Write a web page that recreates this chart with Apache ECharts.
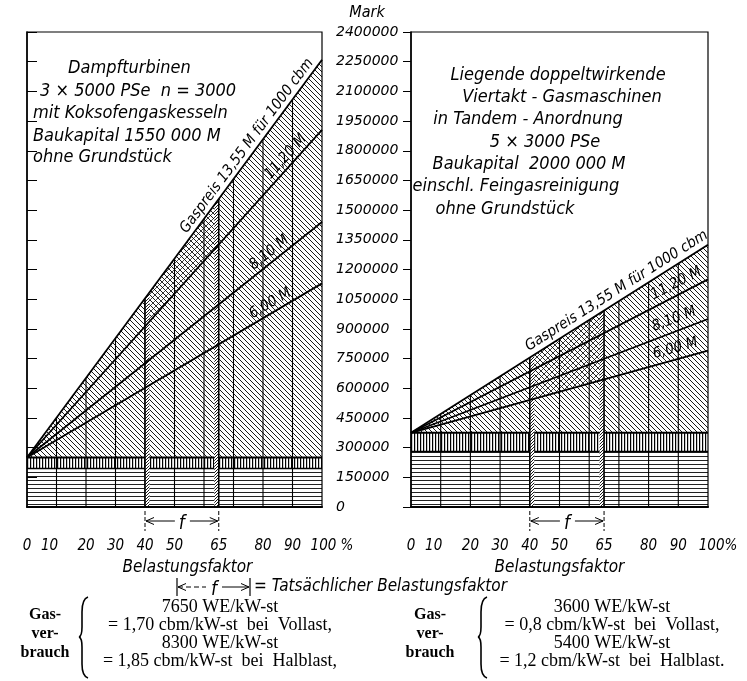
<!DOCTYPE html>
<html>
<head>
<meta charset="utf-8">
<script src="https://cdn.jsdelivr.net/npm/echarts@6/dist/echarts.min.js"></script>
<style>
html, body { margin: 0; padding: 0; background: #fff; }
#chart { width: 747px; height: 681px; }
</style>
</head>
<body>
<div id="chart"></div>
<script>
// Belastungsfaktor (%) – beschriftete Werte
const xLabelsShown = [0, 10, 20, 30, 40, 50, 65, 80, 90, 100]
const gridXs = [10, 20, 30, 40, 50, 60, 70, 80, 90]
const fRange = [40, 65]
// Mark-Achse
const yMax = 2400000
const yStep = 150000
// Gaspreise für 1000 cbm
const priceNames = ['13,55 M', '11,20 M', '8,10 M', '6,00 M']

// Dampfturbinen: feste Kostenstufen und Jahreskosten bei 100 %
const turbineBands = [195000, 250000]
const turbineFull = [2260000, 1905000, 1440000, 1130000]
// Gasmaschinen
const gasBands = [280000, 375000]
const gasFull = [1325000, 1150000, 950000, 790000]

const HAND = '"DejaVu Sans Condensed", "Liberation Sans Narrow", sans-serif'
const SERIF = '"Liberation Serif", "DejaVu Serif", serif'

function hatch (w, h, bg, segs, lw, color) {
  const c = document.createElement('canvas')
  c.width = w
  c.height = h
  const g = c.getContext('2d')
  if (bg) {
    g.fillStyle = bg
    g.fillRect(0, 0, w, h)
  }
  g.strokeStyle = color || '#000'
  g.lineWidth = lw
  g.beginPath()
  segs.forEach(s => { g.moveTo(s[0], s[1]); g.lineTo(s[2], s[3]) })
  g.stroke()
  return { image: c, repeat: 'repeat' }
}

const diagPat = hatch(5, 5, '#fff', [[-1, -1, 6, 6], [-1, 4, 1, 6], [4, -1, 6, 1]], 0.9)
const vertPat = hatch(3, 4, '#fff', [[0.6, 0, 0.6, 4]], 1.2)
const horPat = hatch(4, 4, '#fff', [[0, 0.5, 4, 0.5]], 1, '#222')
const stripPat = hatch(3, 3, '#fff', [[-1, 4, 4, -1], [-1, 1, 1, -1], [2, 4, 4, 2]], 0.9)
const crossPat = hatch(6, 6, null, [[-1, 7, 7, -1], [-1, 1, 1, -1], [5, 7, 7, 5]], 0.7)

// lowIdx: untere Begrenzung der Kreuzschraffur
function panelSeries (gi, bands, full, lowIdx) {
  const base = bands[1]
  // gerade Linie zwischen 0 % und 100 %
  const lineAt = (i, x) => base + (full[i] - base) * x / 100
  const ax = { xAxisIndex: gi, yAxisIndex: gi, silent: true, animation: false }
  const list = []
  list.push(Object.assign({
    type: 'line', data: [[0, base], [100, full[0]]], symbol: 'none',
    lineStyle: { width: 0 }, areaStyle: { color: diagPat, opacity: 1 }, z: 1
  }, ax))
  list.push(Object.assign({
    type: 'line', data: [[0, bands[1]], [100, bands[1]]], symbol: 'none',
    lineStyle: { color: '#000', width: 2 }, areaStyle: { color: vertPat, opacity: 1 }, z: 2
  }, ax))
  list.push(Object.assign({
    type: 'line', data: [[0, bands[0]], [100, bands[0]]], symbol: 'none',
    lineStyle: { color: '#000', width: 1.5 }, areaStyle: { color: horPat, opacity: 1 }, z: 3
  }, ax))
  // Kreuzschraffur im Bereich f
  list.push(Object.assign({
    type: 'custom', data: [[fRange[0], fRange[1]]], z: 4,
    renderItem: (params, api) => {
      const a = api.value(0)
      const b = api.value(1)
      const pts = [
        api.coord([a, lineAt(0, a)]), api.coord([b, lineAt(0, b)]),
        api.coord([b, lineAt(lowIdx, b)]), api.coord([a, lineAt(lowIdx, a)])
      ]
      return { type: 'polygon', shape: { points: pts }, style: { fill: crossPat } }
    }
  }, ax))
  // senkrechte Teilung bis zur obersten Linie
  list.push(Object.assign({
    type: 'custom', data: gridXs.map(x => [x, lineAt(0, x)]), z: 5,
    renderItem: (params, api) => {
      const p0 = api.coord([api.value(0), 0])
      const p1 = api.coord([api.value(0), api.value(1)])
      return { type: 'line', shape: { x1: p0[0], y1: p0[1], x2: p1[0], y2: p1[1] }, style: { stroke: '#000', lineWidth: 1.1 } }
    }
  }, ax))
  // schraffierte Grenzstreifen bei 40 % und 65 %
  list.push(Object.assign({
    type: 'custom', data: fRange.map((x, k) => [x, k === 0 ? 1.5 : -1.5]), z: 6,
    renderItem: (params, api) => {
      const x = api.value(0)
      const x2 = x + api.value(1)
      const pts = [api.coord([x, 0]), api.coord([x2, 0]), api.coord([x2, lineAt(0, x2)]), api.coord([x, lineAt(0, x)])]
      const p0 = api.coord([x, 0])
      const p1 = api.coord([x, lineAt(0, x)])
      return {
        type: 'group',
        children: [
          { type: 'polygon', shape: { points: pts }, style: { fill: stripPat } },
          { type: 'line', shape: { x1: p0[0], y1: p0[1], x2: p1[0], y2: p1[1] }, style: { stroke: '#000', lineWidth: 1.6 } }
        ]
      }
    }
  }, ax))
  full.forEach((v, i) => {
    list.push(Object.assign({
      type: 'line', name: priceNames[i], data: [[0, base], [100, v]], symbol: 'none',
      lineStyle: { color: '#000', width: 1.8 }, z: 7
    }, ax))
  })
  return list
}

function xAxisFor (gi, pct) {
  return {
    gridIndex: gi, type: 'value', min: 0, max: 100, interval: 5, z: 10,
    axisLine: { lineStyle: { color: '#000', width: 2 } },
    axisTick: { show: false },
    splitLine: { show: false },
    axisLabel: {
      margin: 32, color: '#000', fontStyle: 'italic', fontSize: 15, fontFamily: HAND,
      showMinLabel: true, showMaxLabel: true,
      formatter: v => {
        if (v === 10) return '{l|10}'
        if (v === 100) return '{r|100' + pct + '}'
        return xLabelsShown.indexOf(v) >= 0 ? String(v) : ''
      },
      rich: {
        l: { padding: [0, 14, 0, 0], fontStyle: 'italic', fontSize: 15, fontFamily: HAND, color: '#000' },
        r: { padding: [0, 0, 0, 20], fontStyle: 'italic', fontSize: 15, fontFamily: HAND, color: '#000' }
      }
    },
    name: 'Belastungsfaktor', nameLocation: 'middle', nameGap: 50,
    nameTextStyle: { color: '#000', fontStyle: 'italic', fontSize: 17, fontFamily: HAND, padding: gi === 0 ? [0, 0, 0, 26] : 0 }
  }
}

const option = {
  animation: false,
  backgroundColor: '#fff',
  grid: [
    { left: 27, top: 32, width: 295, height: 475, show: true, borderColor: '#000', borderWidth: 1.2, z: 10 },
    { left: 411, top: 32, width: 297, height: 475, show: true, borderColor: '#000', borderWidth: 1.2, z: 10 }
  ],
  xAxis: [xAxisFor(0, ' %'), xAxisFor(1, '%')],
  yAxis: [
    {
      gridIndex: 0, type: 'value', position: 'right', min: 0, max: yMax, interval: yStep, z: 10,
      axisLine: { show: true, lineStyle: { color: '#000', width: 1.5 } },
      axisTick: { show: true, length: 10, lineStyle: { color: '#000' } },
      splitLine: { show: false },
      axisLabel: { margin: 14, color: '#000', fontStyle: 'italic', fontSize: 14, fontFamily: '"DejaVu Sans", sans-serif', formatter: v => String(v) }
    },
    {
      gridIndex: 1, type: 'value', position: 'left', min: 0, max: yMax, interval: yStep, z: 10,
      axisLine: { show: true, lineStyle: { color: '#000', width: 1.5 } },
      axisTick: { show: true, length: 8, lineStyle: { color: '#000' } },
      splitLine: { show: false },
      axisLabel: { show: false }
    }
  ],
  series: panelSeries(0, turbineBands, turbineFull, 1).concat(panelSeries(1, gasBands, gasFull, 3))
}

const chart = echarts.init(document.getElementById('chart'), null, { renderer: 'canvas' })
chart.setOption(option)

// ---- Beschriftungen ----
const px = (gi, p) => chart.convertToPixel({ gridIndex: gi }, p)

function txt (x, y, text, font, align, rot) {
  return {
    type: 'text', x: x, y: y, rotation: rot || 0, z: 20,
    style: { text: text, font: font, fill: '#000', align: align || 'center', textAlign: align || 'center', verticalAlign: 'middle', textVerticalAlign: 'middle' }
  }
}
function seg (x1, y1, x2, y2, w, dash) {
  return { type: 'line', z: 20, shape: { x1, y1, x2, y2 }, style: { stroke: '#000', lineWidth: w || 1, lineDash: dash || null } }
}
function head (x, y, dir) {
  return { type: 'polyline', z: 20, shape: { points: [[x + dir * 8, y - 3.5], [x, y], [x + dir * 8, y + 3.5]] }, style: { stroke: '#000', lineWidth: 1, fill: null } }
}
function curve (x1, y1, cx, cy, x2, y2) {
  return { type: 'bezierCurve', z: 20, shape: { x1, y1, x2, y2, cpx1: cx, cpy1: cy }, style: { stroke: '#000', lineWidth: 1.6, fill: null } }
}

function lineLabel (gi, bands, full, i, text, pct, d, size) {
  const base = bands[1]
  const p0 = px(gi, [0, base])
  const p1 = px(gi, [100, full[i]])
  const a = Math.atan2(p0[1] - p1[1], p1[0] - p0[0])
  const p = px(gi, [pct, base + (full[i] - base) * pct / 100])
  const cx = p[0] - Math.sin(a) * d
  const cy = p[1] - Math.cos(a) * d
  return txt(cx, cy, text, 'italic ' + size + 'px ' + HAND, 'center', a)
}

function fMarker (gi, y) {
  const xa = px(gi, [fRange[0], 0])[0]
  const xb = px(gi, [fRange[1], 0])[0]
  const xm = (xa + xb) / 2
  return [
    seg(xa, y - 10, xa, y + 10, 1, [4, 2]),
    seg(xb, y - 10, xb, y + 10, 1, [4, 2]),
    seg(xa + 1, y, xm - 7, y, 1),
    seg(xm + 8, y, xb - 1, y, 1),
    head(xa + 1, y, 1),
    head(xb - 1, y, -1),
    txt(xm, y + 3, 'f', 'italic 19px ' + HAND)
  ]
}

const H18 = 'italic 18px ' + HAND
const leftTitle = ['Dampfturbinen', '3 × 5000 PSe  n = 3000', 'mit Koksofengaskesseln', 'Baukapital 1550 000 M', 'ohne Grundstück']
const leftTitlePos = [[68, 68], [40, 91], [33, 113], [33, 136], [33, 157]]
const rightTitle = ['Liegende doppeltwirkende', 'Viertakt - Gasmaschinen', 'in Tandem - Anordnung', '5 × 3000 PSe', 'Baukapital  2000 000 M', 'einschl. Feingasreinigung', 'ohne Grundstück']
const rightTitlePos = [[558, 75], [562, 97], [528, 119], [545, 142], [529, 164], [516, 186], [505, 209]]

const leftNote = ['7650 WE/kW-st', '= 1,70 cbm/kW-st  bei  Vollast,', '8300 WE/kW-st', '= 1,85 cbm/kW-st  bei  Halblast,']
const rightNote = ['3600 WE/kW-st', '= 0,8 cbm/kW-st  bei  Vollast,', '5400 WE/kW-st', '= 1,2 cbm/kW-st  bei  Halblast.']

function noteBlock (xGas, xb, xText, lines) {
  const out = []
  const ys = [607, 625, 643, 661]
  ;['Gas-', 'ver-', 'brauch'].forEach((t, k) => out.push(txt(xGas, 615 + k * 19, t, 'bold 16px ' + SERIF)))
  // geschweifte Klammer
  out.push(
    curve(xb + 9, 597, xb + 3, 599, xb + 3, 612),
    seg(xb + 3, 612, xb + 3, 627, 1.6),
    curve(xb + 3, 627, xb + 3, 636, xb, 637),
    curve(xb, 637, xb + 3, 638, xb + 3, 647),
    seg(xb + 3, 647, xb + 3, 664, 1.6),
    curve(xb + 3, 664, xb + 3, 676, xb + 9, 678)
  )
  lines.forEach((t, k) => out.push(txt(xText, ys[k], t, '18px ' + SERIF)))
  return out
}

let graphics = []
graphics.push(txt(367, 13, 'Mark', 'italic 16px ' + HAND))
leftTitle.forEach((t, k) => graphics.push(txt(leftTitlePos[k][0], leftTitlePos[k][1], t, H18, 'left')))
rightTitle.forEach((t, k) => graphics.push(txt(rightTitlePos[k][0], rightTitlePos[k][1], t, H18)))

graphics.push(lineLabel(0, turbineBands, turbineFull, 0, 'Gaspreis ' + priceNames[0] + ' für 1000 cbm', 77, 9, 15))
graphics.push(lineLabel(0, turbineBands, turbineFull, 1, priceNames[1], 90, 9, 15))
graphics.push(lineLabel(0, turbineBands, turbineFull, 2, priceNames[2], 84, 9, 15))
graphics.push(lineLabel(0, turbineBands, turbineFull, 3, priceNames[3], 84, 9, 15))
graphics.push(lineLabel(1, gasBands, gasFull, 0, 'Gaspreis ' + priceNames[0] + ' für 1000 cbm', 71, 10, 15))
graphics.push(lineLabel(1, gasBands, gasFull, 1, priceNames[1], 91, 11, 15))
graphics.push(lineLabel(1, gasBands, gasFull, 2, priceNames[2], 90, 12, 15))
graphics.push(lineLabel(1, gasBands, gasFull, 3, priceNames[3], 90, 11, 15))

graphics = graphics.concat(fMarker(0, 521), fMarker(1, 521))

// Erklärung von f
const lx0 = 177
const lx1 = 250
const ly = 587
graphics.push(seg(lx0, ly - 9, lx0, ly + 9, 1.2), seg(lx1, ly - 9, lx1, ly + 9, 1.2))
graphics.push(seg(lx0 + 1, ly, 206, ly, 1, [5, 3]), seg(222, ly, lx1 - 1, ly, 1), head(lx0 + 1, ly, 1), head(lx1 - 1, ly, -1))
graphics.push(txt(214, ly + 3, 'f', 'italic 19px ' + HAND))
graphics.push(txt(254, ly, '= Tatsächlicher Belastungsfaktor', 'italic 17px ' + HAND, 'left'))

graphics = graphics.concat(noteBlock(45, 79, 220, leftNote), noteBlock(430, 478, 612, rightNote))

chart.setOption({ graphic: { elements: graphics } })
</script>
</body>
</html>
